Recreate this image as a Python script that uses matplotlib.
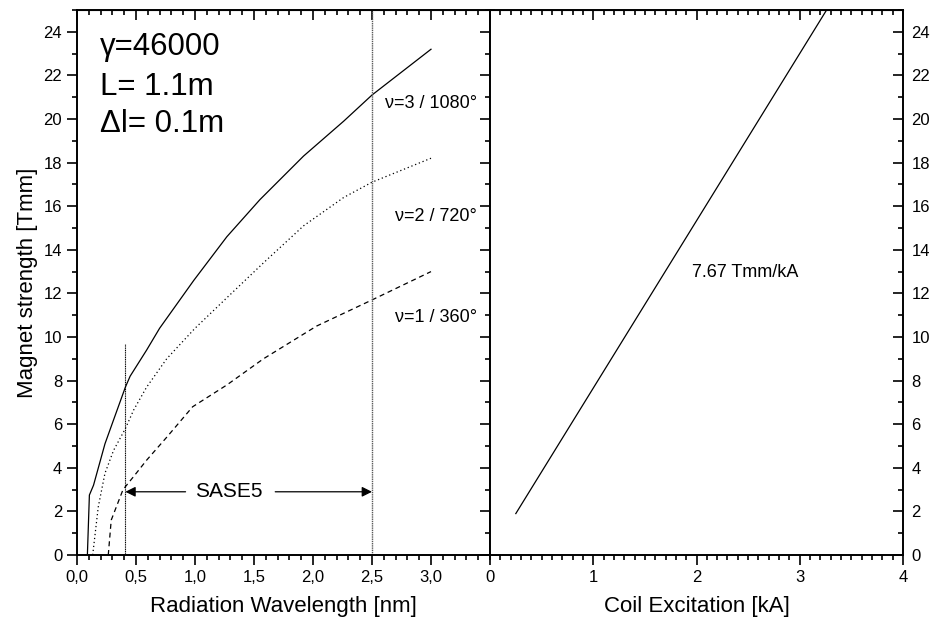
import matplotlib
matplotlib.use('Agg')
import matplotlib.pyplot as plt
from matplotlib.ticker import MultipleLocator, FuncFormatter

plt.rcParams['font.family'] = ['Liberation Sans', 'DejaVu Sans']

# nu = 3 / 1080 deg (solid)
lam3 = [0.088, 0.105, 0.14, 0.237, 0.31, 0.41, 0.45, 0.59, 0.70, 0.99, 1.27, 1.55, 1.92, 2.26, 2.5, 3.0]
B3 = [0.0, 2.75, 3.2, 5.1, 6.2, 7.7, 8.2, 9.4, 10.4, 12.6, 14.6, 16.3, 18.3, 19.9, 21.1, 23.2]
# nu = 2 / 720 deg (dotted)
lam2 = [0.133, 0.18, 0.237, 0.31, 0.41, 0.48, 0.59, 0.76, 1.0, 1.27, 1.58, 1.92, 2.26, 2.5, 3.0]
B2 = [0.0, 2.2, 3.75, 4.8, 5.8, 6.65, 7.7, 9.0, 10.4, 11.8, 13.4, 15.1, 16.4, 17.1, 18.2]
# nu = 1 / 360 deg (dashed)
lam1 = [0.265, 0.29, 0.39, 0.48, 0.59, 0.76, 0.98, 1.27, 1.58, 2.03, 2.5, 3.0]
B1 = [0.0, 1.6, 3.0, 3.6, 4.35, 5.4, 6.8, 7.8, 9.0, 10.5, 11.7, 13.0]

# coil excitation line
I_coil = [0.25, 3.26]
B_coil = [1.9, 25.0]

sase_lo = 0.41
sase_hi = 2.5

fig = plt.figure(figsize=(9.34, 6.21), dpi=100)
ax1 = fig.add_axes([77/934, 1-555/621, 413/934, 545/621])
ax2 = fig.add_axes([490/934, 1-555/621, 413/934, 545/621])

lw = 0.9
ax1.plot(lam3, B3, color='black', lw=lw, ls='-')
ax1.plot(lam2, B2, color='black', lw=lw, ls=(0, (1, 2.2)))
ax1.plot(lam1, B1, color='black', lw=lw, ls=(0, (4, 3)))

ax1.plot([sase_lo, sase_lo], [0, 9.7], color='black', lw=0.8, ls=(0, (1, 0.6)))
ax1.plot([sase_hi, sase_hi], [0, 25], color='0.35', lw=1.0, ls=(0, (1, 0.6)))

ax1.annotate('', xy=(sase_lo, 2.9), xytext=(0.92, 2.9),
             arrowprops=dict(arrowstyle='-|>', color='black', lw=0.9,
                             mutation_scale=15, shrinkA=0, shrinkB=0))
ax1.annotate('', xy=(sase_hi, 2.9), xytext=(1.68, 2.9),
             arrowprops=dict(arrowstyle='-|>', color='black', lw=0.9,
                             mutation_scale=15, shrinkA=0, shrinkB=0))
ax1.text(1.29, 2.9, 'SASE5', fontsize=15, ha='center', va='center')

ax1.text(0.195, 22.94, 'γ=46000', fontsize=22.5, va='baseline')
ax1.text(0.195, 21.1, 'L= 1.1m', fontsize=22.5, va='baseline')
ax1.text(0.195, 19.4, 'Δl= 0.1m', fontsize=22.5, va='baseline')

ax1.text(3.39, 20.5, 'ν=3 / 1080°', fontsize=13, ha='right', va='baseline')
ax1.text(3.39, 15.3, 'ν=2 / 720°', fontsize=13, ha='right', va='baseline')
ax1.text(3.39, 10.7, 'ν=1 / 360°', fontsize=13, ha='right', va='baseline')

ax2.plot(I_coil, B_coil, color='black', lw=lw)
ax2.text(1.96, 12.75, '7.67 Tmm/kA', fontsize=13, va='baseline')

ax1.set_xlim(0, 3.5)
ax2.set_xlim(0, 4)
for ax in (ax1, ax2):
    ax.set_ylim(0, 25)
    ax.yaxis.set_major_locator(MultipleLocator(2))
    ax.yaxis.set_minor_locator(MultipleLocator(1))
    ax.xaxis.set_minor_locator(MultipleLocator(0.1))
    for s in ax.spines.values():
        s.set_linewidth(1.4)

ax1.set_xticks([0, 0.5, 1.0, 1.5, 2.0, 2.5, 3.0])
ax1.xaxis.set_major_formatter(FuncFormatter(lambda v, p: ('%.1f' % v).replace('.', ',')))
ax2.xaxis.set_major_locator(MultipleLocator(1))

maj, mnr = 7.2, 3.6
fs_tick = 12
# left panel
ax1.tick_params(axis='x', which='both', direction='out', top=False, labelsize=fs_tick, width=1.2)
ax1.tick_params(axis='x', which='major', length=maj)
ax1.tick_params(axis='x', which='minor', length=mnr)
ax1.tick_params(axis='y', which='both', direction='out', right=False, labelsize=fs_tick, width=1.2)
ax1.tick_params(axis='y', which='major', length=maj)
ax1.tick_params(axis='y', which='minor', length=mnr)

top1 = ax1.secondary_xaxis('top')
top1.set_xticks([0, 0.5, 1.0, 1.5, 2.0, 2.5, 3.0, 3.5])
top1.xaxis.set_minor_locator(MultipleLocator(0.1))
top1.tick_params(which='both', direction='in', labeltop=False, width=1.2)
top1.tick_params(which='major', length=maj)
top1.tick_params(which='minor', length=mnr)

mid = ax1.secondary_yaxis('right')
mid.yaxis.set_major_locator(MultipleLocator(2))
mid.yaxis.set_minor_locator(MultipleLocator(1))
mid.tick_params(which='both', direction='inout', labelright=False, width=1.2)
mid.tick_params(which='major', length=2*maj)
mid.tick_params(which='minor', length=2*mnr)

# right panel
ax2.tick_params(axis='x', which='both', direction='out', top=False, labelsize=fs_tick, width=1.2)
ax2.tick_params(axis='x', which='major', length=maj)
ax2.tick_params(axis='x', which='minor', length=mnr)
ax2.tick_params(axis='y', which='both', direction='in', left=False, labelleft=False,
                right=True, labelright=True, labelsize=fs_tick, width=1.2, pad=6)
ax2.tick_params(axis='y', which='major', length=maj)
ax2.tick_params(axis='y', which='minor', length=mnr)

top2 = ax2.secondary_xaxis('top')
top2.xaxis.set_major_locator(MultipleLocator(1))
top2.xaxis.set_minor_locator(MultipleLocator(0.1))
top2.tick_params(which='both', direction='in', labeltop=False, width=1.2)
top2.tick_params(which='major', length=maj)
top2.tick_params(which='minor', length=mnr)

ax1.set_xlabel('Radiation Wavelength [nm]', fontsize=16, labelpad=8)
ax2.set_xlabel('Coil Excitation [kA]', fontsize=16, labelpad=8)
ax1.set_ylabel('Magnet strength [Tmm]', fontsize=16, labelpad=4)

fig.savefig('out.png', dpi=100)
